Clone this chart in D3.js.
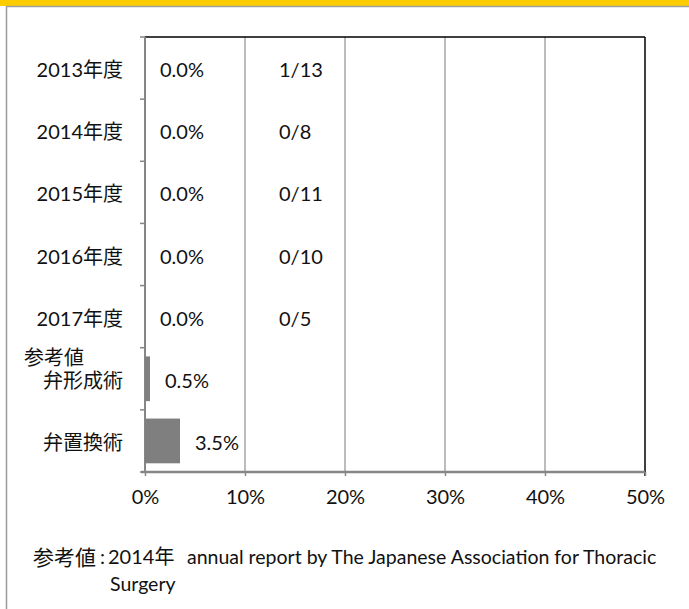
<!DOCTYPE html>
<html>
<head>
<meta charset="utf-8" />
<title>弁形成術・弁置換術</title>
<script src="https://d3js.org/d3.v7.min.js"></script>
<style>
body { margin: 0; padding: 0; background: #fff; }
svg text { font-family: Lato, "Noto Sans CJK JP", sans-serif; font-size: 20px; fill: #111; }
</style>
</head>
<body>
<div id="chart"></div>
<script>

// categories (top to bottom) and their values in %
var categories = ["2013年度", "2014年度", "2015年度", "2016年度", "2017年度", "弁形成術", "弁置換術"];
var values = [0.0, 0.0, 0.0, 0.0, 0.0, 0.5, 3.5];
// cases / total written next to each year
var fractions = ["1/13", "0/8", "0/11", "0/10", "0/5"];
var xTicks = [0, 10, 20, 30, 40, 50];

var W = 689, H = 609;
var margin = {top: 37, right: 44, bottom: 137, left: 145},
    width = W - margin.left - margin.right,
    height = H - margin.top - margin.bottom;

var svg = d3.select("#chart")
  .append("svg")
    .attr("width", W)
    .attr("height", H);

// frame: yellow strip on top, grey rule under it and on the left
svg.append("rect").attr("x", 0).attr("y", 0).attr("width", W).attr("height", 6).style("fill", "#ffcc00");
svg.append("line").attr("x1", 6).attr("x2", W).attr("y1", 6.5).attr("y2", 6.5).style("stroke", "#a0a0a0").style("stroke-width", 1.5);
svg.append("line").attr("x1", 6.5).attr("x2", 6.5).attr("y1", 6).attr("y2", H).style("stroke", "#9a9a9a").style("stroke-width", 1.5);

var g = svg.append("g")
  .attr("transform", "translate(" + margin.left + "," + margin.top + ")");

var x = d3.scaleLinear()
  .domain([0, 50])
  .range([0, width]);

var y = d3.scaleBand()
  .domain(categories)
  .range([0, height])
  .padding(0);

// vertical gridlines
g.selectAll(".grid")
  .data(xTicks.slice(1, -1))
  .enter()
  .append("line")
    .attr("x1", function(d) { return x(d); })
    .attr("x2", function(d) { return x(d); })
    .attr("y1", 0)
    .attr("y2", height)
    .style("stroke", "#a6a6a6")
    .style("stroke-width", 1.5);

// plot border on top and right (black)
g.append("line").attr("x1", 0).attr("x2", width).attr("y1", 0).attr("y2", 0).style("stroke", "#000").style("stroke-width", 1.5);
g.append("line").attr("x1", width).attr("x2", width).attr("y1", 0).attr("y2", height + 4).style("stroke", "#000").style("stroke-width", 1.5);

// x axis
var xAxis = g.append("g")
  .attr("transform", "translate(0," + height + ")")
  .call(d3.axisBottom(x).tickValues(xTicks).tickSize(4).tickPadding(14).tickFormat(function(d) { return d + "%"; }));
xAxis.select(".domain").style("stroke", "#868686").style("stroke-width", 2.5).attr("d", "M-4,0H" + width);
xAxis.selectAll(".tick line").style("stroke", "#868686").style("stroke-width", 1.5);
xAxis.selectAll(".tick text").attr("fill", null);
xAxis.attr("font-size", null).attr("font-family", null);

// y axis: ticks between categories
var yEdges = categories.map(function(c) { return y(c); }).concat([height]);
g.append("line").attr("x1", 0).attr("x2", 0).attr("y1", 0).attr("y2", height).style("stroke", "#868686").style("stroke-width", 2);
g.selectAll(".ytick")
  .data(yEdges)
  .enter()
  .append("line")
    .attr("x1", -5)
    .attr("x2", 0)
    .attr("y1", function(d) { return d; })
    .attr("y2", function(d) { return d; })
    .style("stroke", "#868686")
    .style("stroke-width", 1.5);

// category labels
var bw = y.bandwidth();
g.selectAll(".cat")
  .data(categories)
  .enter()
  .append("text")
    .attr("x", -22)
    .attr("y", function(d) { return y(d) + bw / 2 + 1; })
    .attr("text-anchor", "end")
    .attr("dominant-baseline", "central")
    .text(function(d) { return d; });

// "参考値" above the reference rows
g.append("text")
  .attr("x", 24 - margin.left)
  .attr("y", y("弁形成術") + bw / 2 - 22)
  .attr("dominant-baseline", "central")
  .text("参考値");

// bars
var barH = bw * 0.72;
g.selectAll(".bar")
  .data(values)
  .enter()
  .append("rect")
    .attr("x", x(0))
    .attr("y", function(d, i) { return y(categories[i]) + (bw - barH) / 2; })
    .attr("width", function(d) { return x(d) - x(0); })
    .attr("height", barH)
    .style("fill", "#7f7f7f");

// value labels
g.selectAll(".val")
  .data(values)
  .enter()
  .append("text")
    .attr("x", function(d) { return x(d) + 15; })
    .attr("y", function(d, i) { return y(categories[i]) + bw / 2 + 1; })
    .attr("dominant-baseline", "central")
    .text(function(d) { return d3.format(".1f")(d) + "%"; });

// fractions
g.selectAll(".frac")
  .data(fractions)
  .enter()
  .append("text")
    .attr("x", x(13.4))
    .attr("y", function(d, i) { return y(categories[i]) + bw / 2 + 1; })
    .attr("dominant-baseline", "central")
    .text(function(d) { return d; });

// footnote
var foot = svg.append("g");
foot.append("text").attr("x", 33).attr("y", 556).attr("dominant-baseline", "central").style("font-size", "21px").text("参考値");
foot.append("text").attr("x", 100).attr("y", 556).attr("dominant-baseline", "central").text(":");
foot.append("text").attr("x", 108).attr("y", 556).attr("dominant-baseline", "central").text("2014年");
foot.append("text").attr("x", 187).attr("y", 556).attr("dominant-baseline", "central").style("font-size", "19.5px")
  .text("annual report by The Japanese Association for Thoracic");
foot.append("text").attr("x", 110).attr("y", 583).attr("dominant-baseline", "central").style("font-size", "19.5px").text("Surgery");

</script>
</body>
</html>
